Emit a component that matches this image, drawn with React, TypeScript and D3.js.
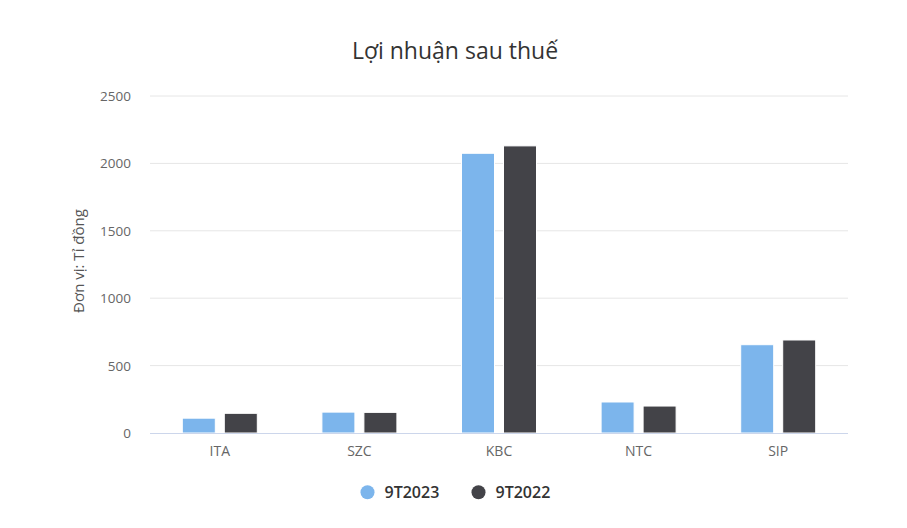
import React from "react";
import * as d3 from "d3";

const categories = ["ITA", "SZC", "KBC", "NTC", "SIP"];
const seriesNames = ["9T2023", "9T2022"];
const values2023 = [110, 155, 2075, 230, 655];
const values2022 = [146, 153, 2130, 200, 690];
const yTicks = [0, 500, 1000, 1500, 2000, 2500];
const colors = ["#7cb5ec", "#434348"];

const W = 907;
const H = 528;
const left = 150;
const right = 848;
const top = 96;
const bottom = 433;
const font = "'Open Sans', 'Noto Sans', sans-serif";

export default function App() {
  const x = d3.scaleBand<string>().domain(categories).range([left, right]);
  const y = d3.scaleLinear().domain([0, 2500]).range([bottom, top]);
  const barW = 33;
  const gap = 9;
  const series = [values2023, values2022];

  return (
    <svg width={W} height={H} style={{ position: "absolute", left: 0, top: 0, fontFamily: font }}>
      <rect width={W} height={H} fill="#fff" />
      <text x={455} y={59} textAnchor="middle" fontSize={23} fill="#333">Lợi nhuận sau thuế</text>
      {yTicks.map((t) => (
        <g key={t}>
          {t > 0 && <line x1={left} x2={right} y1={y(t)} y2={y(t)} stroke="#e6e6e6" />}
          <text x={131} y={y(t) + 5} textAnchor="end" fontSize={13.5} fill="#666">{t}</text>
        </g>
      ))}
      <text transform={`translate(84,261) rotate(-90)`} textAnchor="middle" fontSize={15} fill="#555">Đơn vị: Tỉ đồng</text>
      {categories.map((c, i) => {
        const cx = (x(c) as number) + x.bandwidth() / 2;
        return (
          <g key={c}>
            {series.map((s, j) => {
              const x0 = cx - gap / 2 - barW + j * (barW + gap);
              return (
                <rect key={j} x={x0} y={y(s[i])} width={barW} height={bottom - y(s[i])} fill={colors[j]} stroke="#fff" strokeWidth={1} />
              );
            })}
            <text x={cx} y={456} textAnchor="middle" fontSize={14} fill="#666">{c}</text>
          </g>
        );
      })}
      <line x1={left} x2={right} y1={bottom + 0.5} y2={bottom + 0.5} stroke="#ccd6eb" />
      {seriesNames.map((n, j) => {
        const lx = 367.5 + j * 111;
        return (
          <g key={n}>
            <circle cx={lx} cy={492.3} r={7} fill={colors[j]} />
            <text x={lx + 17} y={498} fontSize={16} fontWeight={600} fill="#333">{n}</text>
          </g>
        );
      })}
    </svg>
  );
}
